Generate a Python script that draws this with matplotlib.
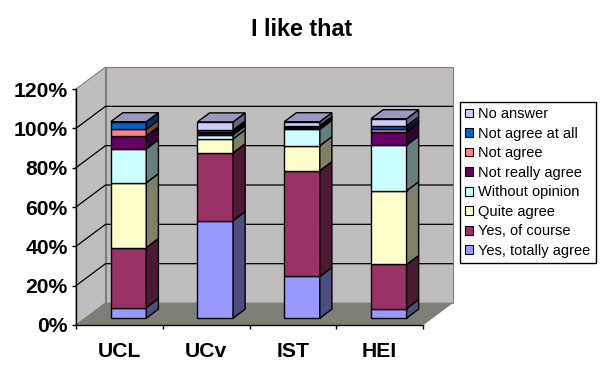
import numpy as np
import matplotlib
matplotlib.use("Agg")
import matplotlib.pyplot as plt
from matplotlib.patches import Polygon, Patch

plt.rcParams["font.family"] = ["Liberation Sans", "DejaVu Sans"]

# Values (percent)
categories = ["UCL", "UCv", "IST", "HEI"]
series_names = ["Yes, totally agree", "Yes, of course", "Quite agree", "Without opinion",
                "Not really agree", "Not agree", "Not agree at all", "No answer"]
totally_agree = [5.4, 49.6, 21.2, 4.9]
of_course = [30.5, 34.5, 53.8, 22.4]
quite_agree = [33.0, 7.1, 12.7, 37.5]
without_opinion = [17.2, 2.0, 8.3, 23.2]
really_agree = [6.6, 1.0, 0.7, 6.8]
not_agree = [3.4, 0.7, 0.6, 1.2]
not_at_all = [3.8, 0.8, 0.6, 1.8]
no_answer = [0.0, 4.1, 2.0, 3.6]
all_series = [totally_agree, of_course, quite_agree, without_opinion,
              really_agree, not_agree, not_at_all, no_answer]
colors = ["#9999FF", "#993366", "#FFFFCC", "#CCFFFF", "#660066", "#FF8080", "#0066CC", "#CCCCFF"]
yticks = [0, 20, 40, 60, 80, 100, 120]

W, H = 605, 376
fig = plt.figure(figsize=(W / 100, H / 100), dpi=100, facecolor="white")
# front plane of the 3D box
left, right, top, bottom = 76, 423, 89, 325
ax = fig.add_axes([left / W, 1 - bottom / H, (right - left) / W, (bottom - top) / H])
ax.set_xlim(0, 4)
ax.set_ylim(0, 120)
ax.patch.set_visible(False)

# oblique depth of the box in data units
depth_x = 29.5 / (right - left) * 4
depth_y = 22 / (bottom - top) * 120


def pt(x, y, d=0.0):
    return (x + d * depth_x, y + d * depth_y)


def shade(color, k):
    c = np.array(matplotlib.colors.to_rgb(color)) * k
    return tuple(c)


def poly(points, face, edge="black", lw=1.0, z=1):
    ax.add_patch(Polygon(points, closed=True, facecolor=face, edgecolor=edge,
                         linewidth=lw, zorder=z, clip_on=False, joinstyle="miter"))


wall = "#BFBDBD"
poly([pt(0, 0, 1), pt(4, 0, 1), pt(4, 120, 1), pt(0, 120, 1)], wall, "#808080", 0.8)
poly([pt(0, 0), pt(0, 0, 1), pt(0, 120, 1), pt(0, 120)], wall, "#808080", 0.8)
poly([pt(0, 0), pt(4, 0), pt(4, 0, 1), pt(0, 0, 1)], "#7F7F78", "#7F7F78", 0.5, z=1.5)

for v in yticks[1:-1]:
    ax.plot(*zip(pt(0, v), pt(0, v, 1), pt(4, v, 1)), color="black", lw=0.9, zorder=1.2,
            clip_on=False)

bar_w = 0.41
bar_d0, bar_d1 = 0.31, 0.72
for i in range(len(categories)):
    x0 = i + 0.5 - bar_w / 2
    x1 = x0 + bar_w
    base = 0.0
    for vals, col in zip(all_series, colors):
        y0, y1 = base, base + vals[i]
        z = 3 + i
        poly([pt(x0, y0, bar_d0), pt(x1, y0, bar_d0), pt(x1, y1, bar_d0), pt(x0, y1, bar_d0)], col, z=z)
        poly([pt(x1, y0, bar_d0), pt(x1, y0, bar_d1), pt(x1, y1, bar_d1), pt(x1, y1, bar_d0)],
             shade(col, 0.5), z=z)
        base = y1
    # the top face takes the colour of the last series, even when its value is 0
    poly([pt(x0, base, bar_d0), pt(x1, base, bar_d0), pt(x1, base, bar_d1), pt(x0, base, bar_d1)],
         shade(colors[-1], 0.75), z=3 + i)

for s in ["top", "right"]:
    ax.spines[s].set_visible(False)
for s in ["left", "bottom"]:
    ax.spines[s].set_linewidth(1.0)

ax.set_yticks(yticks)
ax.set_yticklabels([f"{v}%" for v in yticks], fontsize=15.2, fontweight="bold")
ax.tick_params(axis="y", length=3, width=1, pad=3)
ax.set_xticks(range(5))
ax.set_xticklabels([])
ax.set_xticks(np.arange(len(categories)) + 0.5, categories, minor=True, fontsize=15.2, fontweight="bold")
ax.tick_params(axis="x", which="major", length=3, width=1)
ax.tick_params(axis="x", which="minor", length=0, pad=12)

fig.text(302 / W, 1 - 30 / H, "I like that", ha="center", va="center", fontsize=16.8, fontweight="bold")

handles = [Patch(facecolor=c, edgecolor="black", linewidth=0.8) for c in colors[::-1]]
leg = fig.legend(handles, series_names[::-1], loc="upper left",
                 bbox_to_anchor=(460 / W, 1 - 102 / H), bbox_transform=fig.transFigure,
                 fontsize=10.5, frameon=True, fancybox=False, framealpha=1, edgecolor="black",
                 handlelength=0.55, handleheight=0.55, handletextpad=0.35, labelspacing=0.38,
                 borderpad=0.35, borderaxespad=0)
leg.get_frame().set_linewidth(1.0)

fig.savefig("out.png", dpi=100)
